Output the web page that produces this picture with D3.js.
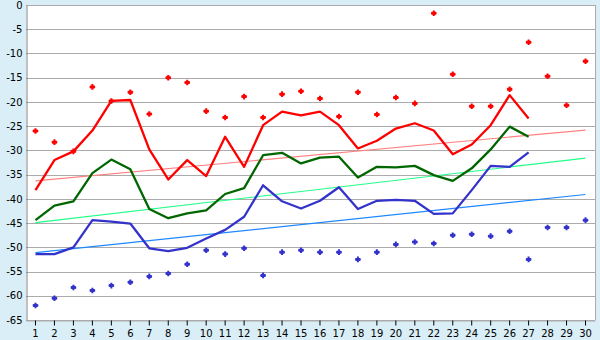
<!DOCTYPE html>
<html><head><meta charset="utf-8">
<script src="https://cdn.jsdelivr.net/npm/d3@7"></script>
<style>
html,body{margin:0;padding:0;background:#d9eef6;}
svg{display:block;}
</style></head>
<body>
<svg id="chart" width="600" height="340"></svg>
<script>
const days = d3.range(1, 31);
const yTicks = [0,-5,-10,-15,-20,-25,-30,-35,-40,-45,-50,-55,-60,-65];

const redLine = [-38.2,-32.0,-30.2,-25.9,-19.8,-19.6,-29.8,-36.0,-32.0,-35.3,-27.2,-33.4,-24.8,-22.0,-22.8,-22.0,-24.8,-29.6,-28.0,-25.5,-24.4,-25.9,-30.8,-28.8,-24.8,-18.6,-23.4];
const greenLine = [-44.4,-41.4,-40.5,-34.7,-31.9,-33.9,-42.1,-44.0,-43.0,-42.4,-39.0,-37.8,-31.0,-30.5,-32.7,-31.5,-31.3,-35.6,-33.4,-33.5,-33.2,-35.1,-36.3,-33.7,-29.8,-25.1,-27.2];
const blueLine = [-51.4,-51.4,-50.0,-44.4,-44.7,-45.1,-50.2,-50.8,-50.1,-48.2,-46.4,-43.7,-37.2,-40.5,-42.0,-40.4,-37.6,-42.1,-40.4,-40.2,-40.4,-43.1,-43.0,-38.2,-33.2,-33.4,-30.4];
const redMarks = [-26.0,-28.3,-30.2,-16.9,-19.8,-18.0,-22.5,-15.0,-16.0,-21.9,-23.2,-18.9,-23.2,-18.4,-17.8,-19.3,-23.0,-18.0,-22.6,-19.1,-20.3,-1.7,-14.3,-20.9,-20.9,-17.4,-7.7,-14.7,-20.7,-11.6];
const blueMarks = [-62.0,-60.5,-58.3,-58.9,-57.9,-57.2,-56.0,-55.4,-53.5,-50.6,-51.4,-50.2,-55.8,-51.0,-50.6,-51.0,-51.0,-52.5,-51.0,-49.4,-48.9,-49.2,-47.5,-47.3,-47.7,-46.7,-52.5,-45.9,-45.9,-44.4];
// trend lines: values at first and last day
const trendDays = [1, 30];
const redTrend = [-36.3, -25.8];
const greenTrend = [-44.9, -31.6];
const blueTrend = [-51.1, -39.1];

const svg = d3.select("#chart");
const L = 26, R = 595, T = 5, B = 320;

svg.append("rect").attr("x",0).attr("y",0).attr("width",600).attr("height",340).attr("fill","#d9eef6");
svg.append("rect").attr("x",L).attr("y",T).attr("width",R-L).attr("height",B-T).attr("fill","#ffffff");

const x = d3.scaleBand().domain(days).range([L, R]);
const xc = d => x(d) + x.bandwidth()/2;
const y = d3.scaleLinear().domain([-65, 0]).range([B, T]);

// gridlines
svg.append("g").selectAll("line").data(yTicks).join("line")
  .attr("x1", L).attr("x2", R)
  .attr("y1", d => Math.round(y(d)) + 0.5).attr("y2", d => Math.round(y(d)) + 0.5)
  .attr("stroke", "#ababab").attr("stroke-width", 1);
// right border
svg.append("line").attr("x1", R+0.5).attr("x2", R+0.5).attr("y1", T).attr("y2", B)
  .attr("stroke", "#ababab");

// y axis
const yAxis = svg.append("g").attr("transform", `translate(${L+0.5},0)`)
  .call(d3.axisLeft(y).tickValues(yTicks).tickSize(0).tickPadding(4).tickFormat(d => d === 0 ? "0" : "-" + Math.abs(d)));
yAxis.select(".domain").attr("stroke", "#808080");
yAxis.selectAll("text").attr("font-family", "DejaVu Sans, Verdana, sans-serif").attr("font-size", 10).attr("fill", "#000");

// x axis
const xAxis = svg.append("g").attr("transform", `translate(0,${B+0.5})`)
  .call(d3.axisBottom(x).tickSize(5).tickPadding(4).tickSizeOuter(0));
xAxis.select(".domain").attr("stroke", "#ababab");
xAxis.selectAll(".tick line").attr("stroke", "#000");
xAxis.selectAll("text").attr("font-family", "DejaVu Sans, Verdana, sans-serif").attr("font-size", 10).attr("fill", "#000");

// trend lines
const trendLine = d3.line().x((v,i) => xc(trendDays[i])).y(v => y(v));
[[redTrend,"#ff8080"],[greenTrend,"#22ff88"],[blueTrend,"#1e88ff"]].forEach(([s,c]) => {
  svg.append("path").attr("d", trendLine(s)).attr("fill","none").attr("stroke",c).attr("stroke-width",1.2);
});

// main lines
const line = d3.line().x((v,i) => xc(days[i])).y(v => y(v));
[[redLine,"#ff0000"],[greenLine,"#006600"],[blueLine,"#3333cc"]].forEach(([s,c]) => {
  svg.append("path").attr("d", line(s)).attr("fill","none").attr("stroke",c).attr("stroke-width",2.3).attr("stroke-linejoin","round");
});

// markers
const mk = "M-1,-2.8h2v1.3h1.3v1.5h1.5v0h0v0h-1.5v1.5h-1.3v1.3h-2v-1.3h-1.3v-1.5h-1.5v0h1.5v-1.5h1.3z";
const mk2 = "M-1,-2.8h2v1.3h1.3v3h-1.3v1.3h-2v-1.3h-1.3v-3h1.3z";
const mk3 = "M-2.8,-1h5.6v2h-5.6z";
[[redMarks,"#ff0000"],[blueMarks,"#3333cc"]].forEach(([s,c]) => {
  const g = svg.append("g").selectAll("g").data(s).join("g")
    .attr("transform", (v,i) => `translate(${xc(days[i])},${y(v)})`)
    .attr("fill", c);
  g.append("path").attr("d", mk2);
  g.append("path").attr("d", mk3);
});
</script>
</body></html>
